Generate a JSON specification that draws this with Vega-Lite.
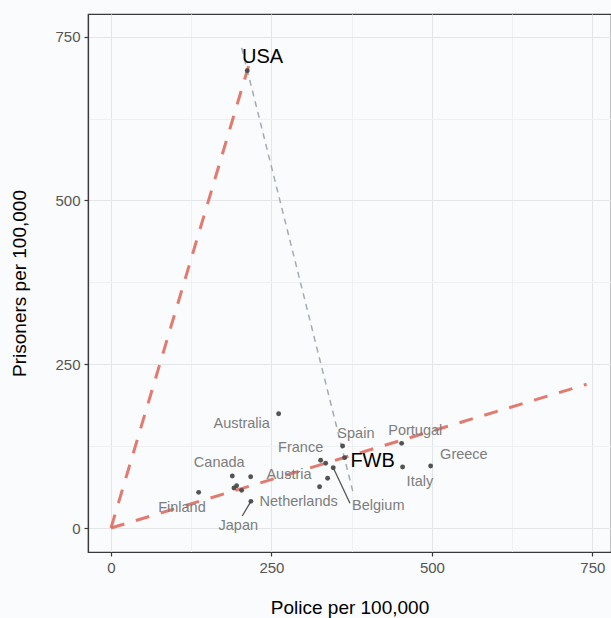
{
  "$schema": "https://vega.github.io/schema/vega-lite/v6.json",
  "width": 523,
  "height": 538,
  "autosize": {"type": "none"},
  "padding": {"left": 88, "top": 14, "right": 0, "bottom": 66},
  "background": "#fafbfc",
  "config": {
    "font": "Liberation Sans",
    "view": {"stroke": "#3a3a3a", "strokeWidth": 1.2, "fill": "#fafbfc"},
    "axis": {
      "domainColor": "#3a3a3a",
      "domainWidth": 1.2,
      "tickColor": "#3a3a3a",
      "tickSize": 4,
      "tickWidth": 1.2,
      "labelColor": "#555555",
      "labelFontSize": 15,
      "labelFont": "Liberation Sans",
      "titleFont": "Liberation Sans",
      "titleFontSize": 19,
      "titleFontWeight": "normal",
      "titleColor": "#000000",
      "gridColor": "#e6e9ec",
      "gridWidth": 1
    }
  },
  "datasets": {
    "countries": [
      {"country": "USA", "police": 212.3, "prisoners": 698.2, "label": "USA", "label_x": 236.3, "label_y": 718.6, "group": "highlight"},
      {"country": "FWB", "police": 364, "prisoners": 107.4, "label": "FWB", "label_x": 407.6, "label_y": 102.7, "group": "highlight"},
      {"country": "Australia", "police": 261.2, "prisoners": 174.5, "label": "Australia", "label_x": 203.6, "label_y": 158.8, "group": "other"},
      {"country": "Spain", "police": 360.9, "prisoners": 125.2, "label": "Spain", "label_x": 381.6, "label_y": 144, "group": "other"},
      {"country": "Portugal", "police": 452.8, "prisoners": 129.3, "label": "Portugal", "label_x": 474, "label_y": 148.1, "group": "other"},
      {"country": "Italy", "police": 454.3, "prisoners": 93.1, "label": "Italy", "label_x": 481.3, "label_y": 70.2, "group": "other"},
      {"country": "Greece", "police": 498, "prisoners": 94.7, "label": "Greece", "label_x": 549.8, "label_y": 111.5, "group": "other"},
      {"country": "France", "police": 326.6, "prisoners": 103.4, "label": "France", "label_x": 295.5, "label_y": 122.1, "group": "other"},
      {"country": "Unlabelled A", "police": 334.4, "prisoners": 98.8, "label": "", "group": "other"},
      {"country": "Belgium", "police": 346.3, "prisoners": 92.1, "label": "Belgium", "label_x": 416.4, "label_y": 33.6, "group": "other"},
      {"country": "Austria", "police": 337.5, "prisoners": 75.9, "label": "Austria", "label_x": 277.3, "label_y": 80.9, "group": "other"},
      {"country": "Netherlands", "police": 325, "prisoners": 63.1, "label": "Netherlands", "label_x": 292.4, "label_y": 39.7, "group": "other"},
      {"country": "Canada", "police": 189, "prisoners": 79.4, "label": "Canada", "label_x": 168.7, "label_y": 98.8, "group": "other"},
      {"country": "Unlabelled B", "police": 217.6, "prisoners": 78.3, "label": "", "group": "other"},
      {"country": "Unlabelled C", "police": 195.7, "prisoners": 64.6, "label": "", "group": "other"},
      {"country": "Unlabelled D", "police": 191.6, "prisoners": 61.1, "label": "", "group": "other"},
      {"country": "Unlabelled E", "police": 203.5, "prisoners": 57.5, "label": "", "group": "other"},
      {"country": "Japan", "police": 218, "prisoners": 40.7, "label": "Japan", "label_x": 198.3, "label_y": 3.5, "group": "other"},
      {"country": "Finland", "police": 136.6, "prisoners": 54.5, "label": "Finland", "label_x": 110.6, "label_y": 30.5, "group": "other"}
    ],
    "lines": [
      {"line": "red_usa", "kind": "red", "order": 1, "x": 0, "y": 0},
      {"line": "red_usa", "kind": "red", "order": 2, "x": 217.2, "y": 714.5},
      {"line": "red_fwb", "kind": "red", "order": 1, "x": 0, "y": 0},
      {"line": "red_fwb", "kind": "red", "order": 2, "x": 741, "y": 219.4},
      {"line": "grey_usa_fwb", "kind": "grey", "order": 1, "x": 203.6, "y": 733},
      {"line": "grey_usa_fwb", "kind": "grey", "order": 2, "x": 377.4, "y": 53.4}
    ],
    "segments": [
      {"country": "Belgium", "x_from": 346.3, "y_from": 92.1, "x_to": 372.3, "y_to": 37.7},
      {"country": "Japan", "x_from": 218, "y_from": 40.7, "x_to": 204.5, "y_to": 18.3}
    ]
  },
  "layer": [
    {
      "data": {"name": "lines"},
      "transform": [{"filter": "datum.kind == 'grey'"}],
      "mark": {"type": "line", "color": "#a3abb3", "strokeWidth": 1.5, "strokeDash": [6, 5], "clip": true},
      "encoding": {
        "x": {"field": "x", "type": "quantitative", "scale": {"domain": [-35.8, 779], "nice": false, "zero": false},
          "axis": {"title": "Police per 100,000", "values": [0, 125, 250, 375, 500, 625, 750],
            "labelExpr": "datum.value % 250 == 0 ? datum.label : ''",
            "tickOpacity": {"condition": {"test": "datum.value % 250 != 0", "value": 0}, "value": 1},
            "gridColor": {"condition": {"test": "datum.value % 250 != 0", "value": "#eef0f2"}, "value": "#e3e6e9"},
            "labelPadding": 4, "titlePadding": 23}},
        "y": {"field": "y", "type": "quantitative", "scale": {"domain": [-36.6, 784.7], "nice": false, "zero": false},
          "axis": {"title": "Prisoners per 100,000", "values": [0, 125, 250, 375, 500, 625, 750],
            "labelExpr": "datum.value % 250 == 0 ? datum.label : ''",
            "tickOpacity": {"condition": {"test": "datum.value % 250 != 0", "value": 0}, "value": 1},
            "gridColor": {"condition": {"test": "datum.value % 250 != 0", "value": "#eef0f2"}, "value": "#e3e6e9"},
            "labelPadding": 4, "titlePadding": 25}},
        "detail": {"field": "line"},
        "order": {"field": "order"}
      }
    },
    {
      "data": {"name": "lines"},
      "transform": [{"filter": "datum.kind == 'red'"}],
      "mark": {"type": "line", "color": "#e06b5f", "opacity": 0.9, "strokeWidth": 3, "strokeDash": [14, 12], "clip": true},
      "encoding": {
        "x": {"field": "x", "type": "quantitative"},
        "y": {"field": "y", "type": "quantitative"},
        "detail": {"field": "line"},
        "order": {"field": "order"}
      }
    },
    {
      "data": {"name": "segments"},
      "mark": {"type": "rule", "color": "#555555", "strokeWidth": 1.3},
      "encoding": {
        "x": {"field": "x_from", "type": "quantitative"},
        "y": {"field": "y_from", "type": "quantitative"},
        "x2": {"field": "x_to"},
        "y2": {"field": "y_to"}
      }
    },
    {
      "data": {"name": "countries"},
      "mark": {"type": "circle", "color": "#4a4a4a", "opacity": 0.95, "size": 24},
      "encoding": {
        "x": {"field": "police", "type": "quantitative"},
        "y": {"field": "prisoners", "type": "quantitative"}
      }
    },
    {
      "data": {"name": "countries"},
      "transform": [{"filter": "datum.group == 'other' && datum.label != ''"}],
      "mark": {"type": "text", "color": "#7d7d7d", "fontSize": 14.5, "font": "Liberation Sans", "align": "center", "baseline": "middle"},
      "encoding": {
        "x": {"field": "label_x", "type": "quantitative"},
        "y": {"field": "label_y", "type": "quantitative"},
        "text": {"field": "label"}
      }
    },
    {
      "data": {"name": "countries"},
      "transform": [{"filter": "datum.group == 'highlight'"}],
      "mark": {"type": "text", "color": "#000000", "fontSize": 20, "font": "Liberation Sans", "align": "center", "baseline": "middle"},
      "encoding": {
        "x": {"field": "label_x", "type": "quantitative"},
        "y": {"field": "label_y", "type": "quantitative"},
        "text": {"field": "label"}
      }
    }
  ]
}
